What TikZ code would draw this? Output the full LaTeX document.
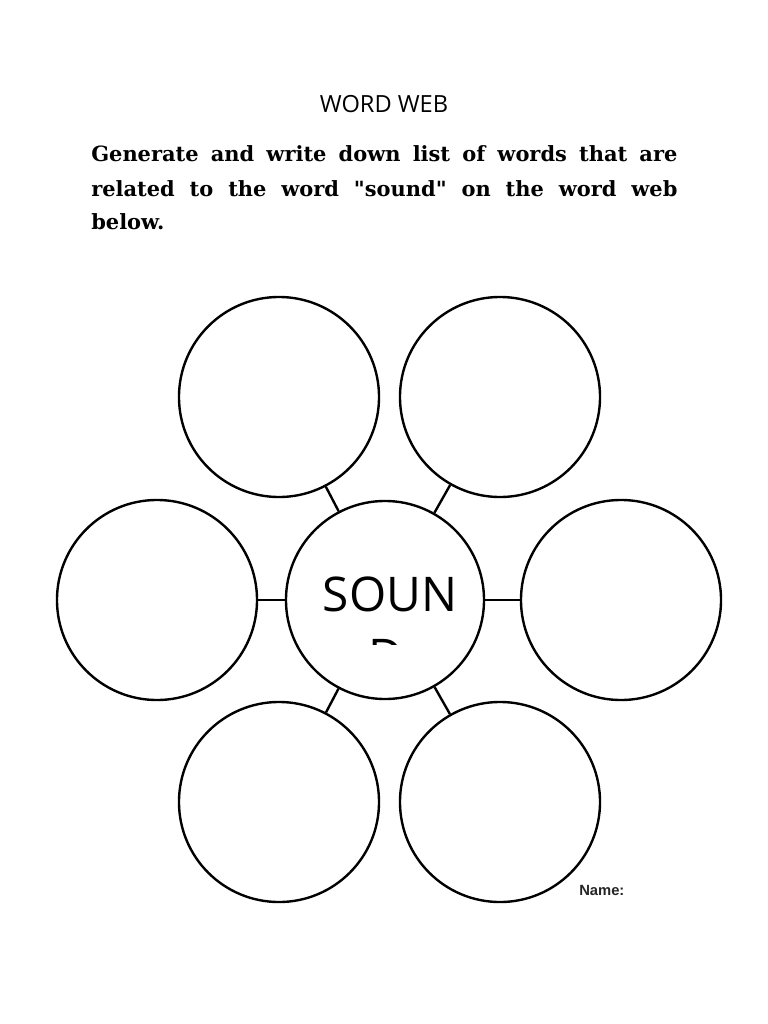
\documentclass[tikz,border=0pt]{standalone}
\usepackage{fontspec}
\setmainfont{DejaVu Serif}[Ligatures=TeXOff]
\newfontfamily\titlefont{Open Sans}
\newfontfamily\namefont{Liberation Sans}

\begin{document}
\begin{tikzpicture}[x=0.025cm, y=-0.025cm,
  txt/.style={inner sep=0pt},
  bubble/.style={draw, circle, line width=1.7pt, minimum size=5cm, inner sep=0pt},
  link/.style={line width=1.7pt}]
  \useasboundingbox[fill=white] (0,0) rectangle (768,1024);
  \node[txt, anchor=base] (title) at (384,113) {\titlefont\fontsize{16.8}{19}\selectfont WORD WEB};
  \node[txt, anchor=base west] (line1) at (91,162) {\bfseries\fontsize{14.9}{24}\selectfont\makebox[14.65cm][s]{Generate and write down list of words that are}};
  \node[txt, anchor=base west] (line2) at (91,197) {\bfseries\fontsize{14.9}{24}\selectfont\makebox[14.65cm][s]{related to the word "sound" on the word web}};
  \node[txt, anchor=base west] (line3) at (91,230) {\bfseries\fontsize{14.9}{24}\selectfont below.};

  \node[bubble, minimum size=4.95cm] (snd) at (385,600) {};
  \node[bubble] (tl) at (279,397) {};
  \node[bubble] (tr) at (500,397) {};
  \node[bubble] (lf) at (157,600) {};
  \node[bubble] (rt) at (621,600) {};
  \node[bubble] (bl) at (279,802) {};
  \node[bubble] (br) at (500,802) {};
  \draw[link] (snd) -- (tl);
  \draw[link] (snd) -- (tr);
  \draw[link] (snd) -- (lf);
  \draw[link] (snd) -- (rt);
  \draw[link] (snd) -- (bl);
  \draw[link] (snd) -- (br);

  \node[txt, anchor=base] (soun) at (390,611) {\titlefont\fontsize{34}{40}\selectfont SOUN};
  \begin{scope}
    \clip (300,600) rectangle (470,644);
    \node[txt, anchor=base] (dd) at (386,673) {\titlefont\fontsize{34}{40}\selectfont D};
  \end{scope}
  \node[txt, anchor=base west] (name) at (579,895) {\namefont\bfseries\fontsize{10.5}{12}\selectfont\color{black!85}Name:};
\end{tikzpicture}
\end{document}
